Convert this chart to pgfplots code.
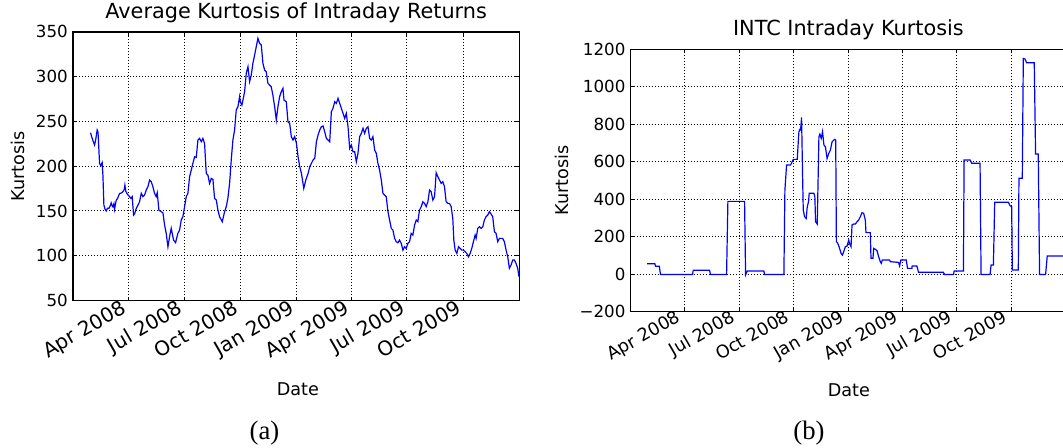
\documentclass[border=0pt]{standalone}
\usepackage{fontspec}
\setmainfont{DejaVu Sans}
\newfontfamily\capfont{Liberation Serif}
\usepackage{pgfplots}
\pgfplotsset{compat=1.18}
\newcommand\xtfa{\fontsize{15}{18}\selectfont}
\newcommand\xtfb{\fontsize{13.2}{15.8}\selectfont}
\newcommand\ytf{\fontsize{12.5}{15}\selectfont}
\pgfplotsset{
  mpl/.style={
    scale only axis,
    xmin=0, xmax=731,
    axis line style={black, line width=0.9pt},
    tick align=inside,
    major tick length=3pt,
    tick style={black, line width=0.75pt},
    grid=major,
    major grid style={black, line width=0.75pt, dash pattern=on 0.75pt off 1.5pt},
    xtick={91,182,274,366,456,547,639},
    yticklabel style={font=\ytf, anchor=east, inner sep=0pt, xshift=-3.75pt},
    label style={font=\fontsize{13.2}{15.8}\selectfont},
    title style={font=\fontsize{15.6}{18.7}\selectfont, at={(0.5,1)}, anchor=base, yshift=4.4pt},
    /pgf/number format/assume math mode=true,
  }
}
\begin{document}
\begin{tikzpicture}
\begin{axis}[mpl,
  at={(54.75pt,-225.375pt)}, anchor=south west,
  width=334.7pt, height=201.45pt,
  ymin=50, ymax=350, ytick={50,100,150,200,250,300,350},
  yticklabels={{\ytf 50},{\ytf 100},{\ytf 150},{\ytf 200},{\ytf 250},{\ytf 300},{\ytf 350}},
  xticklabels={{\xtfa Apr 2008},{\xtfa Jul 2008},{\xtfa Oct 2008},{\xtfa Jan 2009},{\xtfa Apr 2009},{\xtfa Jul 2009},{\xtfa Oct 2009}},
  xticklabel style={font=\xtfa, xshift=-6.15pt, yshift=1.2pt, rotate=30, anchor=north east, inner sep=0pt},
  title={Average Kurtosis of Intraday Returns},
  xlabel={Date}, ylabel={Kurtosis},
  xlabel style={at={(axis description cs:0.504,-0.3295)}, anchor=center},
  ylabel style={at={(axis description cs:-0.1226,0.5)}, anchor=center},
]
\addplot[blue, line width=0.9pt] coordinates {
(28.7,237.4) (31,232) (33,228) (35.3,223.7) (37,229) (39.6,240.4) (41,238) (43.5,203.2) (45.5,200.5) (47.8,204) (49,190) (50.6,156.6) (52.5,152) (54.4,150) (56.5,153) (58.8,152.9) (60.5,155) (62.6,159) (64,156) (65.3,154.7) (67,158) (68,151.8) (70.8,162) (73,164) (76.3,169.6) (79,170) (81.7,171.5) (84,174) (85,178.9) (86.5,172) (88.3,169.7) (90,168) (92.6,166) (95,164) (97,166) (99.2,145.4) (101,147) (103.6,152.9) (106,156) (109,160.3) (111.8,169.7) (114.5,166) (117.2,167.8) (120,173.4) (122.7,177) (125.4,184.5) (128.1,182.7) (130.9,177) (133.6,169.7) (136.3,166) (138,170.4) (140.7,151) (144.5,149.2) (147.3,148) (150,134.3) (152.7,125) (155.5,110) (158.2,121.3) (160.9,130.6) (164.7,117.5) (168,114.6) (171.8,125) (174.6,128.7) (177.3,140) (180,143.6) (182.8,154.8) (185.5,166) (188.2,169.7) (191,188.3) (193.7,195.7) (196.4,203.2) (199.2,210.6) (201.9,209.9) (204.6,229.2) (207.4,231.1) (210.1,227.4) (212.8,231) (215.5,225.5) (218.3,192) (221,190) (223.7,180.8) (226.5,186.4) (229.2,185.3) (231.9,164) (234.7,162.2) (237.4,151) (240.1,143.6) (244.5,138) (248.3,149.2) (251,154.8) (253.7,164.1) (256.5,180.8) (259.2,206.9) (261.9,229.2) (264.7,240.4) (267.4,262.8) (270.2,266.5) (272.9,277.7) (274,272) (276.7,268.3) (278.4,273.9) (281.1,283.2) (283.8,303.7) (286.6,311.2) (289.3,294.4) (292,301.9) (294.7,314.9) (297.5,324.2) (300.2,333.5) (302.9,342.8) (305.6,337.2) (308.4,335.4) (311.1,314.9) (313.8,307.4) (316.5,305.6) (319.3,292.6) (322,290.7) (324.7,288.8) (327.4,279.5) (330.3,266.5) (333,251.6) (335.7,266.5) (338.5,277.7) (341.2,283.2) (343.9,287) (345.6,273.9) (349.4,272) (352.1,249.7) (354.9,247.9) (357.6,233) (360.3,229.2) (363.1,233) (366,225.5) (368.7,210.6) (371.4,199.4) (374.2,192) (378,175.2) (381.3,184.5) (385.1,192) (387.8,199.4) (390.5,203.2) (393.2,206.9) (396,208.8) (398.7,227.4) (401.4,234.8) (404.1,240.4) (406.8,244.1) (409.6,244.9) (412.3,238.6) (415,231.1) (417.8,229.2) (420.5,227.4) (423.2,260.9) (425.9,264.6) (428.7,272.1) (431.4,270.2) (434.1,275.8) (436.8,270.2) (439.6,264.6) (442.3,259) (445,253.4) (447.7,259) (450.5,244.1) (453.2,219.9) (455.9,223.7) (458.6,216.2) (461.4,216.2) (464.1,205) (466.8,214.3) (469.5,233) (472.3,236.7) (475,242.3) (477.7,236.7) (480.4,242.3) (483.2,244.1) (485.9,231.1) (488.6,229.2) (491.3,233) (494.1,218.1) (496.8,214.3) (499.5,203.2) (502.2,195.7) (505,184.5) (507.7,169.7) (510.4,167.8) (513.1,166) (515.9,149.2) (518.6,139.9) (521.3,130.6) (524,128.7) (526.8,119.4) (529.5,115.7) (532.2,114.5) (534.9,117.5) (537.7,113.8) (540.4,106.3) (543.1,110.1) (545.8,108.2) (548.6,113.8) (551.3,115.7) (554,125) (556.7,123.1) (559.5,134.3) (562.2,139.9) (564.9,138.1) (567.6,151) (570.4,154.8) (573.1,160.3) (575.8,158.5) (578.5,154.8) (581.3,160.3) (584,173.4) (586.7,171.5) (589.4,162.2) (592.2,166) (594.9,192.7) (597.6,188.3) (600.3,184.5) (603.1,180.8) (605.8,182.7) (608.5,177.1) (611.2,160.3) (614,158.5) (616.7,158.5) (619.4,154.8) (622.1,141.7) (623.8,117.5) (626,106.3) (628.7,102.6) (631.5,110.1) (634.2,108.2) (636.9,106.3) (639.6,106.3) (642.3,104.5) (645,102.6) (647.8,98.9) (650.5,102.6) (653.2,108.2) (655.9,115.7) (658.7,123.1) (660.3,119.4) (663,130.6) (665.7,132.4) (668.5,130.6) (671.2,132.4) (673.9,139.9) (676.6,143.6) (679.4,145.5) (682.1,149.2) (684.8,146.6) (687.5,143.6) (690.3,126.8) (693,125) (695.7,115.7) (698.5,119.4) (701.2,119.4) (703.9,119.4) (706.6,115.7) (709.4,106.3) (712.1,98.9) (714.8,85.9) (717.5,89.6) (720.3,95.2) (723,95.2) (725.7,91.4) (728.4,85.9) (730.5,76.6)
};
\end{axis}
\begin{axis}[mpl,
  at={(473.0pt,-233.6pt)}, anchor=south west,
  width=326.6pt, height=196.65pt,
  ymin=-200, ymax=1200, ytick={-200,0,200,400,600,800,1000,1200},
  yticklabels={{\ytf −200},{\ytf 0},{\ytf 200},{\ytf 400},{\ytf 600},{\ytf 800},{\ytf 1000},{\ytf 1200}},
  xticklabels={{\xtfb Apr 2008},{\xtfb Jul 2008},{\xtfb Oct 2008},{\xtfb Jan 2009},{\xtfb Apr 2009},{\xtfb Jul 2009},{\xtfb Oct 2009}},
  xticklabel style={font=\xtfb, xshift=-7.35pt, yshift=2.0pt, rotate=30, anchor=north east, inner sep=0pt},
  title={INTC Intraday Kurtosis},
  xlabel={Date}, ylabel={Kurtosis},
  xlabel style={at={(axis description cs:0.501,-0.301)}, anchor=center},
  ylabel style={at={(axis description cs:-0.1577,0.5)}, anchor=center},
]
\addplot[blue, line width=0.9pt] coordinates {
(27.8,55) (40.6,55) (41.8,42) (48,42) (50.1,-3) (103.9,-3) (105,20) (132.4,20) (134.1,-3) (161,-3) (163.2,388) (191.2,388) (192.9,-5) (195.7,16) (223.6,16) (224.7,-3) (257.2,-3) (258.9,448) (261.7,582) (268.4,582) (271.2,600) (272.9,612) (279.6,612) (282.4,760) (284.1,772) (285.2,769) (286.9,836) (288.5,537) (289.7,342) (291.9,306) (294.7,297) (296.4,359) (298.6,386) (299.7,431) (307.6,431) (309.2,413) (310.4,279) (313.2,267) (316,733) (317.6,747) (319.9,724) (322.1,760) (324.4,689) (326.9,680) (329.7,617) (332.5,644) (335.3,662) (338.1,706) (340.9,715) (342.6,719) (344.2,715) (345.3,173) (347.6,164) (349.8,146) (353.2,110) (355.4,101) (357.6,119) (360.4,146) (363.2,149) (366,181) (367.7,160) (369.9,146) (371.6,262) (374.4,267) (377.2,267) (380,279) (382.7,288) (385.5,306) (388.3,327) (391.1,324) (393.9,288) (395,221) (402.3,221) (403.4,84) (406.8,84) (407.9,137) (410.7,132) (413.5,125) (416.2,93) (419,66) (420.7,57) (422.4,75) (434.7,75) (435.8,66) (449.7,62) (451.4,43) (453.6,75) (462.6,75) (464.8,30) (472.1,30) (472.5,43) (480.5,43) (483.2,9) (525.1,9) (526.8,-3) (541.9,-3) (543,16) (558.6,16) (559.7,609) (569.8,609) (572.6,591) (586.5,591) (588.2,-3) (603.3,-3) (605,48) (608.9,48) (611.1,383) (634,383) (636.8,365) (639.6,359) (640.7,21) (650.7,21) (651.8,511) (657.4,511) (659.1,1151) (661.9,1148) (664.7,1128) (677.5,1128) (679.7,641) (684.2,641) (686.4,-3) (696.5,-3) (699.3,96) (731,96)
};
\end{axis}
\node[font=\capfont\fontsize{20}{24}\selectfont, anchor=center] at (198.4pt,-324.75pt) {(a)};
\node[font=\capfont\fontsize{20}{24}\selectfont, anchor=center] at (606.75pt,-324.75pt) {(b)};
\pgfresetboundingbox
\path[use as bounding box] (0,0) rectangle (797.25pt,-335.25pt);
\end{tikzpicture}
\end{document}
